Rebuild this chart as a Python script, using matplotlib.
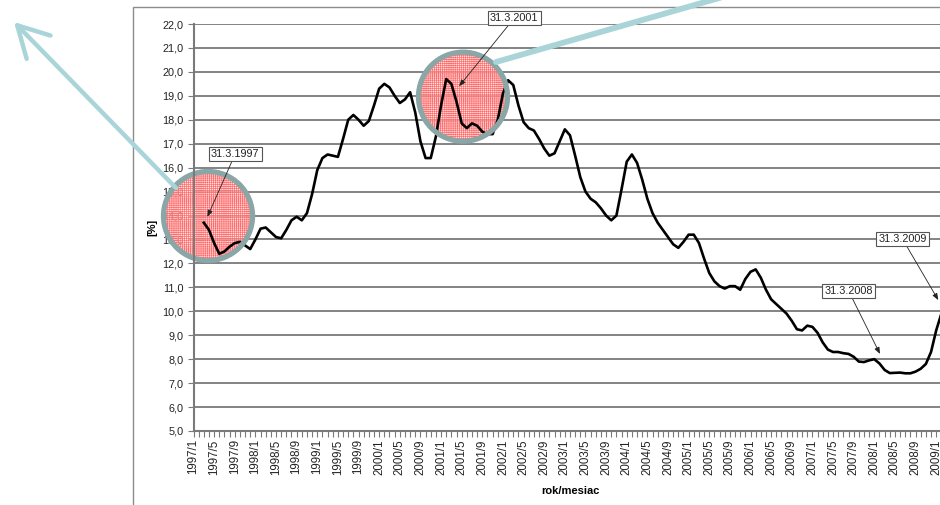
import numpy as np
import matplotlib
matplotlib.use("Agg")
import matplotlib.pyplot as plt
from matplotlib.patches import Circle, Rectangle, FancyArrowPatch
from matplotlib.transforms import IdentityTransform
from matplotlib.ticker import FuncFormatter

plt.rcParams['font.family'] = ['Liberation Sans', 'DejaVu Sans']
plt.rcParams['hatch.linewidth'] = 0.5

# monthly unemployment rate [%], 1997/3 .. 2009/3
rate_1997 = [13.7, 13.4, 12.85, 12.4, 12.5, 12.7, 12.85, 12.9, 12.75, 12.6]
rate_1998 = [13.0, 13.45, 13.5, 13.3, 13.1, 13.05, 13.4, 13.8, 13.95, 13.8, 14.1, 14.9]
rate_1999 = [15.9, 16.4, 16.55, 16.5, 16.45, 17.2, 18.0, 18.2, 18.0, 17.75, 17.95, 18.6]
rate_2000 = [19.3, 19.5, 19.35, 19.0, 18.7, 18.85, 19.15, 18.3, 17.1, 16.4, 16.4, 17.3]
rate_2001 = [18.6, 19.7, 19.5, 18.75, 17.85, 17.65, 17.85, 17.75, 17.5, 17.4, 17.4, 18.0]
rate_2002 = [19.1, 19.65, 19.45, 18.6, 17.9, 17.65, 17.55, 17.2, 16.8, 16.5, 16.6, 17.1]
rate_2003 = [17.6, 17.35, 16.5, 15.6, 15.0, 14.7, 14.55, 14.3, 14.0, 13.8, 14.0, 15.1]
rate_2004 = [16.25, 16.55, 16.2, 15.5, 14.7, 14.1, 13.7, 13.4, 13.1, 12.8, 12.65, 12.9]
rate_2005 = [13.2, 13.2, 12.85, 12.2, 11.6, 11.25, 11.05, 10.95, 11.05, 11.05, 10.9, 11.35]
rate_2006 = [11.65, 11.75, 11.4, 10.9, 10.5, 10.3, 10.1, 9.9, 9.6, 9.25, 9.2, 9.4]
rate_2007 = [9.35, 9.1, 8.7, 8.4, 8.3, 8.3, 8.25, 8.22, 8.1, 7.9, 7.88, 7.95]
rate_2008 = [8.0, 7.82, 7.55, 7.42, 7.43, 7.44, 7.41, 7.41, 7.48, 7.6, 7.8, 8.3]
rate_2009 = [9.2, 9.9, 10.5]

rates = (rate_1997 + rate_1998 + rate_1999 + rate_2000 + rate_2001 + rate_2002
         + rate_2003 + rate_2004 + rate_2005 + rate_2006 + rate_2007 + rate_2008 + rate_2009)
first_month = 2  # series starts at 1997/3
months = np.arange(first_month, first_month + len(rates))

tick_labels = [
    "1997/1", "1997/5", "1997/9", "1998/1", "1998/5", "1998/9", "1999/1", "1999/5", "1999/9",
    "2000/1", "2000/5", "2000/9", "2001/1", "2001/5", "2001/9", "2002/1", "2002/5", "2002/9",
    "2003/1", "2003/5", "2003/9", "2004/1", "2004/5", "2004/9", "2005/1", "2005/5", "2005/9",
    "2006/1", "2006/5", "2006/9", "2007/1", "2007/5", "2007/9", "2008/1", "2008/5", "2008/9",
    "2009/1",
]

# callouts: label, arrow target (month, value), text centre (month, value)
callouts = [
    ("31.3.1997", (2.7, 13.95), (8.1, 16.58)),
    ("31.3.2001", (51.5, 19.4), (62.2, 22.25)),
    ("31.3.2008", (133.1, 8.22), (127.0, 10.86)),
    ("31.3.2009", (144.4, 10.47), (137.5, 13.01)),
]

W, H = 940, 505
fig = plt.figure(figsize=(W / 100, H / 100), dpi=100)
fig.patch.set_facecolor("white")

# outer chart frame (cropped on the right and bottom)
fig.add_artist(Rectangle((133, -10), 900, H - 7 + 10, transform=IdentityTransform(),
                         fill=False, edgecolor="#8c8c8c", lw=1.0))

ax = fig.add_axes([193.5 / W, 1 - 431 / H, (946.5 - 193.5) / W, (431 - 24) / H])
ax.set_facecolor("none")
ax.set_xlim(0, 146)
ax.set_ylim(5, 22)

ax.plot(months, rates, color="black", lw=1.9, zorder=2, solid_joinstyle="round")

ax.set_yticks(np.arange(5, 22.5, 1))
ax.yaxis.set_major_formatter(FuncFormatter(lambda v, p: f"{v:.1f}".replace(".", ",")))
ax.grid(axis="y", color="#7a7a7a", lw=1.3)
ax.set_xticks(np.arange(0, 145, 4))
ax.set_xticklabels(tick_labels, rotation=90)
ax.set_xticks(np.arange(0, 147, 1), minor=True)
ax.tick_params(axis="both", which="both", direction="out", length=4, width=0.8,
               color="#7a7a7a", labelsize=7.8, labelcolor="#222222")
ax.tick_params(axis="x", which="major", pad=2, labelsize=8.3)
ax.tick_params(axis="y", pad=3)

for s in ["top", "right"]:
    ax.spines[s].set_visible(False)
for s in ["left", "bottom"]:
    ax.spines[s].set_color("#7a7a7a")
    ax.spines[s].set_linewidth(1.5)

ax.set_xlabel("rok/mesiac", fontsize=8, fontweight="bold", labelpad=8)
ax.set_ylabel("[%]", fontsize=8, fontweight="bold", labelpad=4)

for text, tip, pos in callouts:
    ax.annotate(text, xy=tip, xytext=pos, ha="center", va="center", fontsize=7.8,
                color="#222222", annotation_clip=False,
                bbox=dict(boxstyle="square,pad=0.2", fc="white", ec="#555555", lw=0.8),
                arrowprops=dict(arrowstyle="-|>,head_length=0.5,head_width=0.2",
                                color="#222222", lw=0.6, shrinkA=0, shrinkB=0),
                zorder=5)

# highlighted circles (pixel coords, y from bottom)
for cx, cy in [(208, H - 216), (463, H - 96.7)]:
    ax.add_patch(Circle((cx, cy), 44, transform=IdentityTransform(), facecolor=(1, 0.82, 0.82, 0.6),
                        edgecolor="#ff6e6e", hatch="++++++++", lw=0, zorder=1.6, clip_on=False))
    ax.add_patch(Circle((cx, cy), 44.5, transform=IdentityTransform(), fill=False,
                        edgecolor="#8aa6a6", lw=3.8, zorder=2.2, clip_on=False))

teal = "#a9d5d8"
fig.add_artist(FancyArrowPatch(
    (176, H - 188), (14, H - 22), transform=IdentityTransform(),
    arrowstyle="->,head_length=1.1,head_width=0.6", mutation_scale=20,
    color=teal, lw=3.2, zorder=5, shrinkA=0, shrinkB=0))
fig.add_artist(FancyArrowPatch(
    (496, H - 62), (740, H + 8), transform=IdentityTransform(),
    arrowstyle="-", color=teal, lw=4.2, zorder=5, shrinkA=0, shrinkB=0))

fig.savefig("out.png", dpi=100)
